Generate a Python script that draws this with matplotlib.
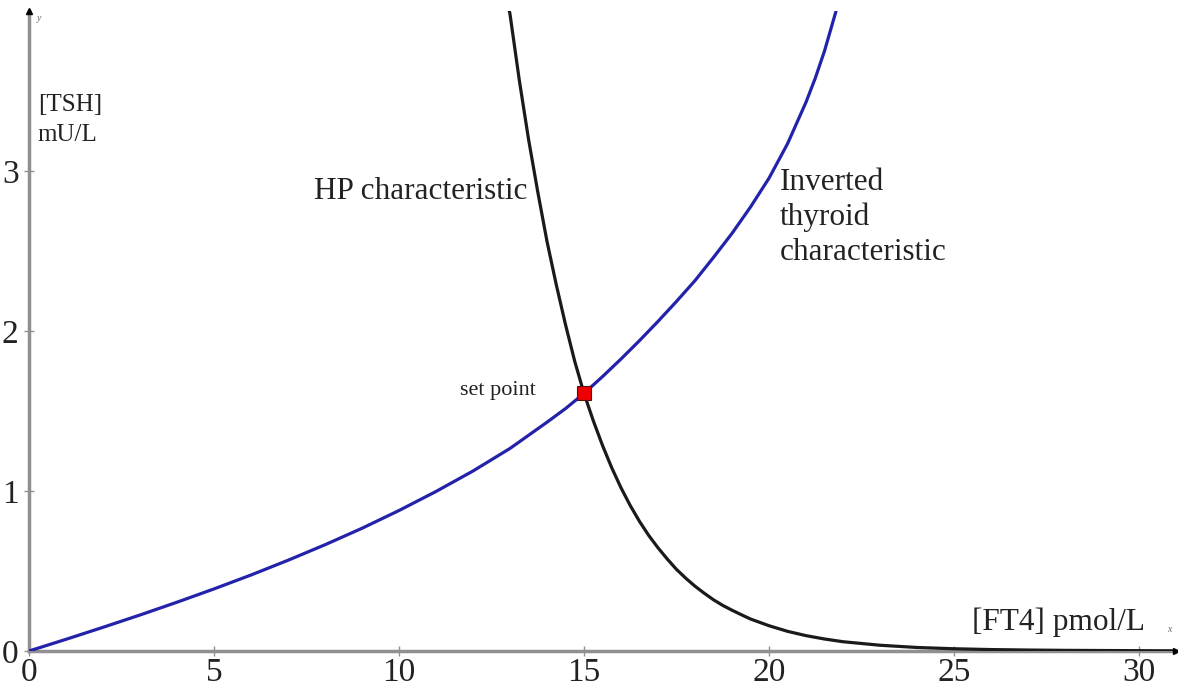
import matplotlib
matplotlib.use("Agg")
import matplotlib.pyplot as plt

# inverted thyroid characteristic (blue)
ft4_thyroid = [0, 1, 2, 3, 4, 5, 6, 7, 8, 9, 10, 11, 12, 13, 14, 14.5, 15,
               15.5, 16, 16.5, 17, 17.5, 18, 18.5, 19, 19.5, 20, 20.5, 21,
               21.25, 21.5, 21.75, 22.0]
tsh_thyroid = [0, 0.073, 0.148, 0.225, 0.305, 0.388, 0.475, 0.567, 0.664,
               0.767, 0.878, 0.997, 1.125, 1.266, 1.43, 1.515, 1.61, 1.715,
               1.825, 1.94, 2.06, 2.185, 2.315, 2.46, 2.61, 2.775, 2.955,
               3.17, 3.43, 3.58, 3.75, 3.95, 4.15]

# HP characteristic (black)
ft4_hp = [12.85, 13, 13.25, 13.5, 13.75, 14, 14.25, 14.5, 14.75, 15, 15.25,
          15.5, 15.75, 16, 16.25, 16.5, 16.75, 17, 17.25, 17.5, 17.75, 18,
          18.25, 18.5, 18.75, 19, 19.25, 19.5, 20, 20.5, 21, 21.5, 22, 23,
          24, 25, 26, 27, 28, 29, 30, 31]
tsh_hp = [4.15, 3.98, 3.57, 3.20, 2.87, 2.56, 2.29, 2.04, 1.81, 1.61, 1.44,
          1.285, 1.145, 1.02, 0.909, 0.81, 0.722, 0.645, 0.575, 0.51, 0.455,
          0.405, 0.361, 0.32, 0.285, 0.255, 0.227, 0.20, 0.158, 0.123, 0.096,
          0.075, 0.058, 0.036, 0.022, 0.014, 0.009, 0.006, 0.004, 0.003,
          0.002, 0.001]

set_point = (15, 1.61)

x_ticks = [0, 5, 10, 15, 20, 25, 30]
y_ticks = [0, 1, 2, 3]

plt.rcParams["font.family"] = ["Liberation Serif", "DejaVu Serif"]

fig = plt.figure(figsize=(11.78, 6.86), dpi=100)
ax = fig.add_axes([29 / 1178, 35 / 686, 1147 / 1178, 640 / 686])
ax.set_xlim(0, 31)
ax.set_ylim(0, 4)

ax.plot(ft4_thyroid, tsh_thyroid, color="#2222aa", lw=2.3, zorder=3,
        solid_joinstyle="round")
ax.plot(ft4_hp, tsh_hp, color="#1a1a1a", lw=2.3, zorder=3,
        solid_joinstyle="round")
ax.plot(*set_point, marker="s", ms=10, mfc="#ee0000", mec="#551111",
        mew=0.8, zorder=5)

for side in ["top", "right"]:
    ax.spines[side].set_visible(False)
for side in ["left", "bottom"]:
    ax.spines[side].set_color("#909090")
    ax.spines[side].set_linewidth(2.5)

ax.set_xticks(x_ticks)
ax.set_yticks(y_ticks)
ax.tick_params(direction="inout", length=7, width=1, colors="#909090",
               labelcolor="#222222", labelsize=24, pad=1)
ax.tick_params(axis="y", pad=4)

# arrow heads at the axis ends
ax.plot(1, 0, marker=">", color="k", ms=5, transform=ax.transAxes,
        clip_on=False, zorder=6)
ax.plot(0, 1, marker="^", color="k", ms=5, transform=ax.transAxes,
        clip_on=False, zorder=6)
ax.text(0.007, 0.995, "y", transform=ax.transAxes, fontsize=7,
        color="#666666", style="italic", va="top")
ax.text(0.996, 0.03, "x", transform=ax.transAxes, fontsize=7,
        color="#666666", style="italic", ha="right")

ax.text(7.7, 2.87, "HP characteristic", fontsize=22.5, color="#222222",
        va="center")
ax.text(20.3, 2.71, "Inverted\nthyroid\ncharacteristic", fontsize=22.5,
        color="#222222", va="center", linespacing=1.25)
ax.text(11.65, 1.63, "set point", fontsize=16, color="#222222", va="center")
ax.text(25.5, 0.18, "[FT4] pmol/L", fontsize=22.5, color="#222222",
        va="center")
ax.text(0.24, 3.32, "[TSH]\nmU/L", fontsize=18, color="#222222",
        va="center", linespacing=1.45)

fig.savefig("out.png", dpi=100)
